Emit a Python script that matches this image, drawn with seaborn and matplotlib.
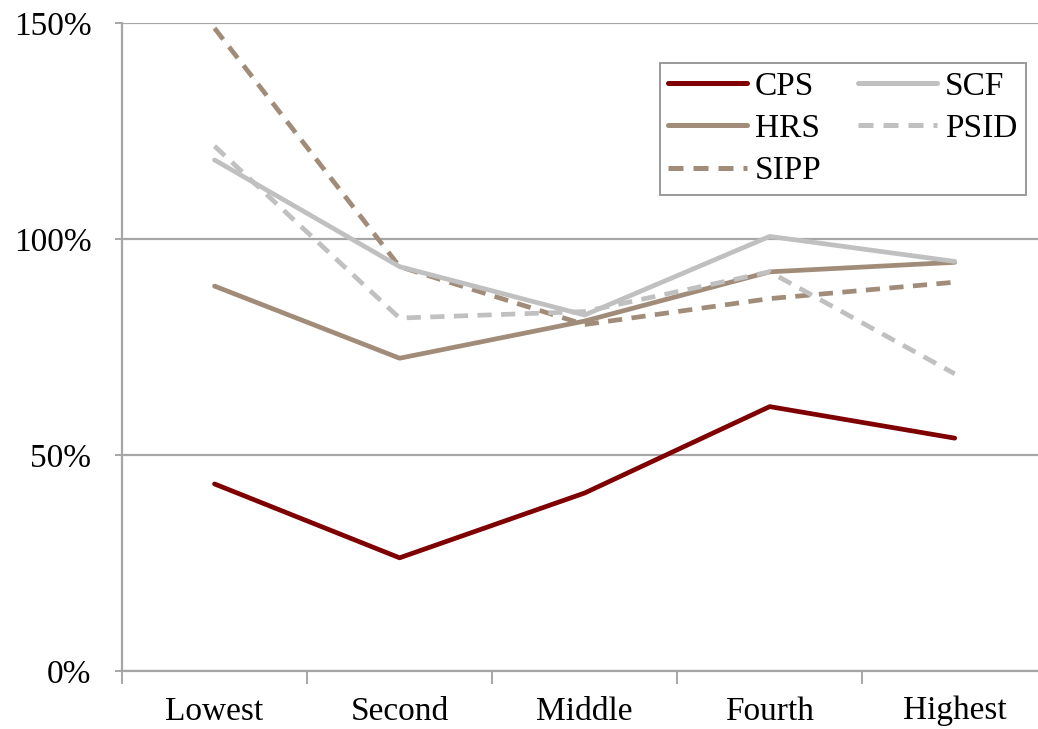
import numpy as np
import pandas as pd
import matplotlib
matplotlib.use("Agg")
import matplotlib.pyplot as plt
from matplotlib.ticker import FixedLocator, PercentFormatter
import seaborn as sns

# quintile categories
categories = ["Lowest", "Second", "Middle", "Fourth", "Highest"]

# ratios in percent
cps = [43.3, 26.2, 41.2, 61.2, 53.9]
hrs = [89.1, 72.4, 81.0, 92.4, 94.6]
sipp = [148.8, 93.6, 80.2, 86.2, 90.0]
scf = [118.3, 93.6, 82.4, 100.6, 94.8]
psid = [121.5, 81.7, 83.2, 92.4, 68.8]

series_order = ["CPS", "HRS", "SIPP", "SCF", "PSID"]
series_values = {"CPS": cps, "HRS": hrs, "SIPP": sipp, "SCF": scf, "PSID": psid}
colors = {"CPS": "#7f0000", "HRS": "#a08c78", "SIPP": "#a08c78",
          "SCF": "#c0c0c0", "PSID": "#c0c0c0"}
dashes = {"CPS": "", "HRS": "", "SIPP": (3, 2), "SCF": "", "PSID": (3, 2)}

rows = []
for name in series_order:
    for i, v in enumerate(series_values[name]):
        rows.append({"series": name, "pos": i, "value": v})
df = pd.DataFrame(rows)

sns.set_style("white")
plt.rcParams["font.family"] = "serif"
plt.rcParams["font.serif"] = ["Liberation Serif", "DejaVu Serif"]
plt.rcParams["text.color"] = "black"

fig = plt.figure(figsize=(10.38, 7.29), dpi=100)
ax = fig.add_axes([122 / 1038, 1 - 671 / 729, (1038 - 122) / 1038, (671 - 23) / 729])

sns.lineplot(data=df, x="pos", y="value", hue="series", style="series",
             hue_order=series_order, style_order=series_order,
             palette=colors, dashes=dashes, linewidth=3.4, sort=False,
             ax=ax, legend=True)

ax.set_xlim(-0.5, 4.45)
ax.set_ylim(0, 150)
ax.set_xlabel("")
ax.set_ylabel("")

# gridlines
ax.yaxis.set_major_locator(FixedLocator([0, 50, 100, 150]))
ax.yaxis.set_major_formatter(PercentFormatter(decimals=0))
ax.grid(axis="y", color="#a6a6a6", linewidth=1.6)
ax.set_axisbelow(True)

# category ticks at boundaries, labels at centres
ax.xaxis.set_major_locator(FixedLocator([-0.5, 0.5, 1.5, 2.5, 3.5]))
ax.xaxis.set_major_formatter(plt.NullFormatter())
ax.xaxis.set_minor_locator(FixedLocator(range(len(categories))))
ax.set_xticklabels(categories, minor=True)
ax.tick_params(axis="x", which="major", direction="out", length=9, width=1.4,
               color="#a6a6a6", bottom=True)
ax.tick_params(axis="x", which="minor", length=0, pad=18, labelsize=24,
               labelcolor="black")
ax.tick_params(axis="y", direction="out", length=5, width=1.4, color="#a6a6a6",
               left=True, pad=17, labelsize=24, labelcolor="black")

for side in ["top", "right"]:
    ax.spines[side].set_visible(False)
for side in ["left", "bottom"]:
    ax.spines[side].set_color("#a6a6a6")
    ax.spines[side].set_linewidth(1.6)

handles, labels = ax.get_legend_handles_labels()
leg = ax.legend(handles, labels, ncol=2, loc="upper left",
                bbox_to_anchor=((660 - 122) / 916, 1 - (63 - 23) / 648),
                fontsize=24, frameon=True, fancybox=False, edgecolor="#808080",
                handlelength=2.35, handletextpad=0.25, columnspacing=1.1,
                labelspacing=0.35, borderpad=0.25, borderaxespad=0)
leg.get_frame().set_linewidth(1.4)
for line in leg.get_lines():
    line.set_linewidth(3.6)

fig.savefig("out.png", dpi=100)
plt.close(fig)
